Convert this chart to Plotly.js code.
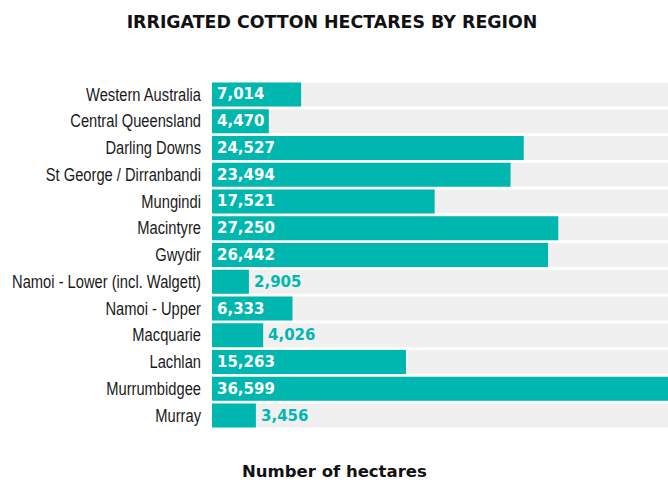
<!DOCTYPE html>
<html>
<head>
<meta charset="utf-8">
<script src="https://cdn.plot.ly/plotly-3.0.1.min.js"></script>
<style>html,body{margin:0;padding:0;background:#fff;}#chart{width:668px;height:484px;}</style>
</head>
<body>
<div id="chart"></div>
<script>
const regions = ["Western Australia","Central Queensland","Darling Downs","St George / Dirranbandi","Mungindi","Macintyre","Gwydir","Namoi - Lower (incl. Walgett)","Namoi - Upper","Macquarie","Lachlan","Murrumbidgee","Murray"];
const hectares = [7014,4470,24527,23494,17521,27250,26442,2905,6333,4026,15263,36599,3456];
const labelInside = [true,true,true,true,true,true,true,false,true,false,true,true,false];
const chartTitle = "IRRIGATED COTTON HECTARES BY REGION";
const axisTitle = "Number of hectares";

const TEAL = "#00b7b0";
const GREY = "#f0f0f0";
const xMax = 35880;

const bg = {
  type: "bar", orientation: "h", y: regions, x: regions.map(() => xMax * 2),
  marker: {color: GREY}, hoverinfo: "skip", showlegend: false
};
const bars = {
  type: "bar", orientation: "h", y: regions, x: hectares,
  marker: {color: TEAL}, showlegend: false, hoverinfo: "x+y"
};
const annotations = hectares.map((v, i) => ({
  x: labelInside[i] ? 0 : v, y: regions[i], xref: "x", yref: "y",
  text: v.toLocaleString("en-US"), showarrow: false,
  xanchor: "left", xshift: 3,
  font: {family: "DejaVu Sans", size: 15, color: labelInside[i] ? "#ffffff" : TEAL, weight: "bold"}
}));
annotations.push({
  text: axisTitle, xref: "paper", yref: "paper", x: (334 - 212) / 456, y: 0,
  yshift: -42, xanchor: "center", yanchor: "middle", showarrow: false,
  font: {family: "DejaVu Sans", size: 16.5, color: "#111", weight: "bold"}
});

const layout = {
  width: 668, height: 484,
  margin: {l: 212, r: 0, t: 81, b: 55},
  paper_bgcolor: "#fff", plot_bgcolor: "#fff",
  barmode: "overlay", bargap: 0.103,
  title: {text: chartTitle, x: 0.497, xref: "container", y: 0.955, yref: "container", yanchor: "middle",
    font: {family: "DejaVu Sans", size: 17.4, color: "#111", weight: "bold"}},
  xaxis: {range: [0, xMax], visible: false, fixedrange: true},
  yaxis: {autorange: "reversed", showgrid: false, zeroline: false, showline: false, ticks: "",
    ticklabelstandoff: 10,
    tickfont: {family: "Liberation Sans, Arial, sans-serif", size: 17.5, color: "#1a1a1a"}},
  annotations: annotations
};
Plotly.newPlot("chart", [bg, bars], layout, {displayModeBar: false, staticPlot: true}).then(() => {
  document.querySelectorAll("#chart .ytick text").forEach(t => {
    const x = parseFloat(t.getAttribute("x")) || 0;
    const prev = t.getAttribute("transform") || "";
    t.setAttribute("transform", `${prev} translate(${x},0) scale(0.84,1) translate(${-x},0)`);
  });
});
</script>
</body>
</html>
